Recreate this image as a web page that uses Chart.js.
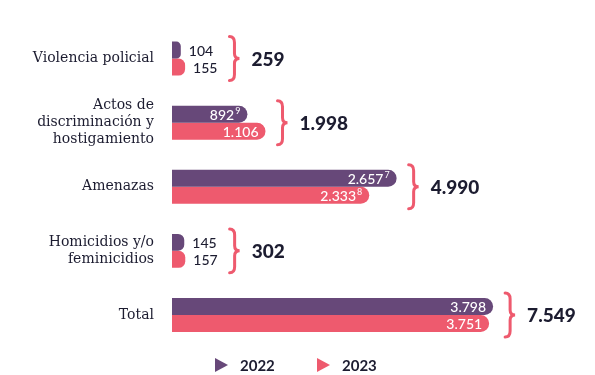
<!DOCTYPE html>
<html>
<head>
<meta charset="utf-8">
<script src="https://cdn.jsdelivr.net/npm/chart.js@4.4.0/dist/chart.umd.min.js"></script>
<style>
    html, body { margin: 0; padding: 0; background: #fff; }
    #wrap { width: 595px; height: 375px; position: relative; }
</style>
</head>
<body>
<div id="wrap"><canvas id="chart"></canvas></div>
<script>
const categories = [
    ['Violencia policial'],
    ['Actos de', 'discriminación y', 'hostigamiento'],
    ['Amenazas'],
    ['Homicidios y/o', 'feminicidios'],
    ['Total']
];
const years = ['2022', '2023'];
const values2022 = [104, 892, 2657, 145, 3798];
const values2023 = [155, 1106, 2333, 157, 3751];
const totals = [259, 1998, 4990, 302, 7549];
const notes2022 = ['', '9', '7', '', ''];
const notes2023 = ['', '', '8', '', ''];

const purple = '#674879';
const pink = '#ee5a6e';
const ink = '#1c1c30';
const font = 'Lato, "Open Sans", sans-serif';

// Spanish thousands separator
const fmt = n => n.toString().replace(/\B(?=(\d{3})+(?!\d))/g, '.');

function drawBrace(ctx, x, y1, y2, w) {
    const ym = (y1 + y2) / 2;
    const xm = x + w * 0.5;
    ctx.beginPath();
    ctx.moveTo(x, y1);
    ctx.quadraticCurveTo(xm, y1, xm, y1 + 6);
    ctx.lineTo(xm, ym - 5);
    ctx.quadraticCurveTo(xm, ym, x + w, ym);
    ctx.quadraticCurveTo(xm, ym, xm, ym + 5);
    ctx.lineTo(xm, y2 - 6);
    ctx.quadraticCurveTo(xm, y2, x, y2);
    ctx.stroke();
}

const labelsPlugin = {
    id: 'labels',
    afterDatasetsDraw(chart) {
        const ctx = chart.ctx;
        const notes = [notes2022, notes2023];
        ctx.save();
        categories.forEach((_, i) => {
            let right = 0;
            let top = Infinity, bottom = -Infinity;
            [0, 1].forEach(d => {
                const bar = chart.getDatasetMeta(d).data[i];
                const val = chart.data.datasets[d].data[i];
                const txt = fmt(val);
                const note = notes[d][i];
                const half = bar.height / 2;
                top = Math.min(top, bar.y - half);
                bottom = Math.max(bottom, bar.y + half);
                ctx.font = '500 14px ' + font;
                const tw = ctx.measureText(txt).width;
                ctx.font = '9px ' + font;
                const nw = note ? ctx.measureText(note).width + 1 : 0;
                const width = bar.x - bar.base;
                ctx.textBaseline = 'middle';
                let x;
                if (width > 60) {
                    ctx.fillStyle = '#fff';
                    x = bar.x - 7 - nw - tw;
                    right = Math.max(right, bar.x);
                } else {
                    ctx.fillStyle = ink;
                    x = bar.x + 8;
                    right = Math.max(right, x + tw + nw);
                }
                ctx.textAlign = 'left';
                ctx.font = '500 14px ' + font;
                ctx.fillText(txt, x, bar.y + 1);
                if (note) {
                    ctx.font = '9px ' + font;
                    ctx.fillText(note, x + tw + 1, bar.y - 3);
                }
            });
            // brace and total
            const bx = right + 12;
            ctx.strokeStyle = pink;
            ctx.lineWidth = 3;
            ctx.lineCap = 'round';
            drawBrace(ctx, bx, top - 5, bottom + 5, 10);
            ctx.fillStyle = ink;
            ctx.font = '900 19px ' + font;
            ctx.textAlign = 'left';
            ctx.textBaseline = 'middle';
            ctx.fillText(fmt(totals[i]), bx + 22, (top + bottom) / 2 + 1);
        });

        // legend
        const items = [[215, purple, years[0]], [317, pink, years[1]]];
        items.forEach(([x, color, label]) => {
            const y = 365;
            ctx.fillStyle = color;
            ctx.beginPath();
            ctx.moveTo(x, y - 7);
            ctx.lineTo(x + 13, y);
            ctx.lineTo(x, y + 7);
            ctx.closePath();
            ctx.fill();
            ctx.fillStyle = ink;
            ctx.font = 'bold 15px ' + font;
            ctx.textAlign = 'left';
            ctx.textBaseline = 'middle';
            ctx.fillText(label, x + 25, y + 1);
        });
        ctx.restore();
    }
};

new Chart(document.getElementById('chart'), {
    type: 'bar',
    data: {
        labels: categories,
        datasets: [
            { label: years[0], data: values2022, backgroundColor: purple },
            { label: years[1], data: values2023, backgroundColor: pink }
        ]
    },
    options: {
        indexAxis: 'y',
        responsive: true,
        maintainAspectRatio: false,
        animation: false,
        layout: { padding: { top: 25, bottom: 28, left: 0, right: 40 } },
        datasets: {
            bar: {
                categoryPercentage: 0.53,
                barPercentage: 1,
                borderRadius: 9,
                borderSkipped: 'start'
            }
        },
        scales: {
            x: { display: false, min: 0, max: 4530 },
            y: {
                grid: { display: false, drawTicks: false },
                border: { display: false },
                afterFit: scale => { scale.width = 172; },
                ticks: {
                    padding: 18,
                    color: ink,
                    font: { family: '"DejaVu Serif", serif', size: 14, lineHeight: 1.22 }
                }
            }
        },
        plugins: {
            legend: { display: false },
            tooltip: { enabled: false }
        }
    },
    plugins: [labelsPlugin]
});
</script>
</body>
</html>
